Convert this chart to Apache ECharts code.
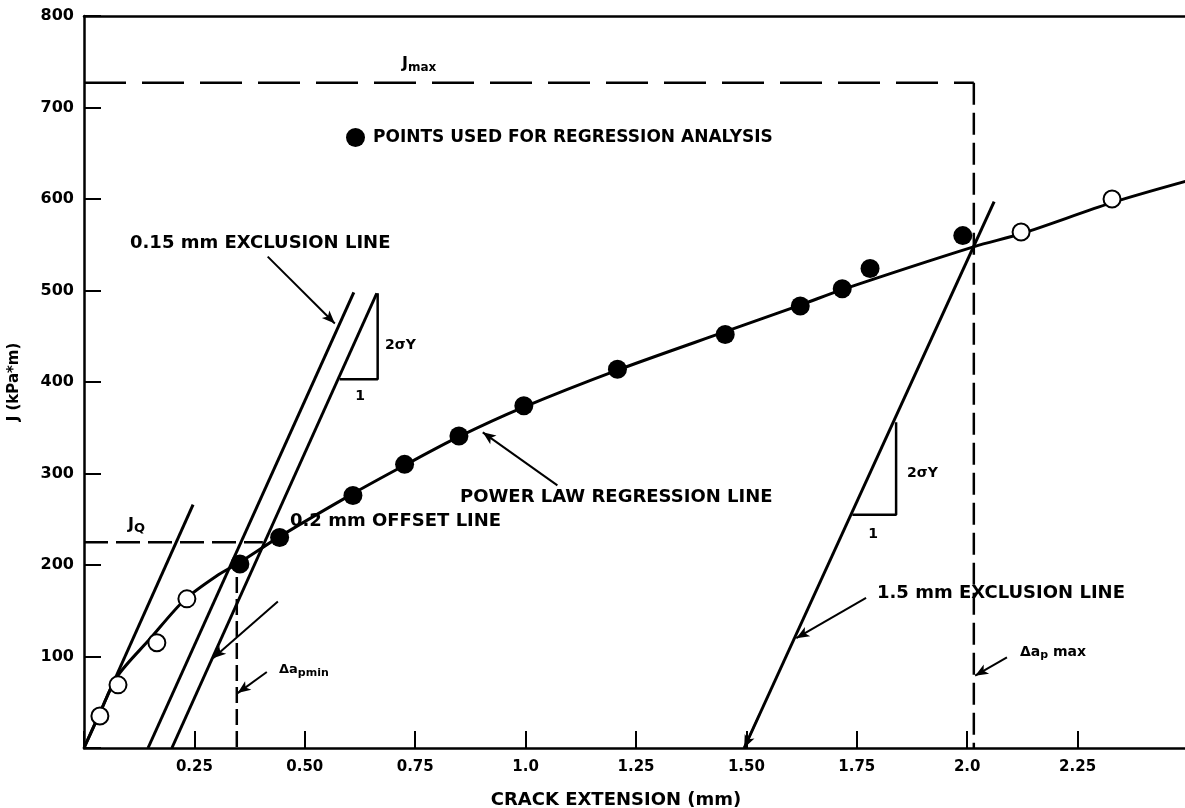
<!DOCTYPE html>
<html lang="en">
<head>
    <meta charset="UTF-8">
    <title>J-R curve</title>
    <script src="https://cdn.jsdelivr.net/npm/echarts@6/dist/echarts.min.js"></script>
    <style>
        html, body { margin: 0; padding: 0; background: #fff; }
    </style>
</head>
<body>
<div id="box" style="width: 1185px;height: 808px;"></div>

<script>
    // tick labels
    var xLabels = ['', '0.25', '0.50', '0.75', '1.0', '1.25', '1.50', '1.75', '2.0', '2.25', ''];
    var yLabels = ['', '100', '200', '300', '400', '500', '600', '700', '800'];

    // points used for regression (filled) and other points (open)
    var usedPoints = [[0.353, 201], [0.443, 230], [0.609, 276], [0.726, 310], [0.849, 341], [0.996, 374],
        [1.208, 414], [1.452, 452], [1.622, 483], [1.717, 502], [1.780, 524], [1.990, 560]];
    var otherPoints = [[0.036, 35], [0.077, 69], [0.165, 115], [0.233, 163], [2.122, 564], [2.328, 600]];

    // power law regression curve
    var curve = [[0, 0], [0.035, 37], [0.075, 78], [0.149, 119], [0.228, 162], [0.300, 188], [0.353, 203],
        [0.443, 231], [0.609, 278], [0.726, 309], [0.848, 340], [0.993, 372], [1.208, 413], [1.452, 455],
        [1.622, 484], [1.717, 501], [2.016, 548], [2.122, 562], [2.328, 596], [2.500, 620]];

    // straight construction lines
    var bluntLine = [[0, 0], [0.247, 266]];
    var excl015 = [[0.145, 0], [0.611, 498]];
    var offset02 = [[0.199, 0], [0.663, 497]];
    var excl15 = [[1.495, 0], [2.061, 597]];
    var slope1 = [[0.579, 403], [0.665, 403], [0.665, 497]];
    var slope2 = [[1.740, 255], [1.839, 255], [1.839, 356]];

    // dashed limits
    var jmaxH = [[0, 727], [2.015, 727]];
    var jmaxV = [[2.015, 727], [2.015, 0]];
    var jqLine = [[0, 225], [0.405, 225]];
    var daMin = [[0.346, 187], [0.346, 0]];

    // annotation arrows [from, to]
    var arrows = [
        [[0.416, 537], [0.568, 464]],
        [[1.072, 287], [0.903, 345]],
        [[0.439, 160], [0.292, 98]],
        [[0.414, 83], [0.348, 60]],
        [[1.771, 164], [1.613, 120]],
        [[2.090, 99], [2.018, 79]],
        [[1.530, 37], [1.495, 0]]
    ];

    var FONT = '"DejaVu Sans", sans-serif';

    function solid(name, data, width) {
        return {
            name: name, type: 'line', data: data, showSymbol: false, smooth: false,
            lineStyle: {color: '#000', width: width || 3}, z: 3, silent: true
        };
    }
    function dashed(name, data, dash) {
        return {
            name: name, type: 'line', data: data, showSymbol: false,
            lineStyle: {color: '#000', width: 2.5, type: dash}, z: 2, silent: true
        };
    }
    function txt(x, y, s, size, align) {
        return {
            type: 'text', x: x, y: y, z: 10,
            style: {text: s, fill: '#000', font: 'bold ' + (size || 16) + 'px ' + FONT,
                align: align || 'left', verticalAlign: 'middle'}
        };
    }
    function subTxt(x, y, main, sub, size, subSize) {
        return {
            type: 'text', x: x, y: y, z: 10,
            style: {
                text: '{a|' + main + '}{b|' + sub + '}', verticalAlign: 'middle',
                rich: {
                    a: {font: 'bold ' + size + 'px ' + FONT, fill: '#000'},
                    b: {font: 'bold ' + subSize + 'px ' + FONT, fill: '#000', padding: [Math.round(size * 0.5), 0, 0, 0]}
                }
            }
        };
    }

    var myChart = echarts.init(document.getElementById('box'));
    var option = {
        animation: false,
        backgroundColor: '#fff',
        grid: {left: 84, top: 16, bottom: 60, width: 1104, show: false, containLabel: false, outerBoundsMode: 'none'},
        legend: {
            data: ['POINTS USED FOR REGRESSION ANALYSIS'],
            left: 341, top: 123, icon: 'circle', itemWidth: 19, itemHeight: 19,
            itemStyle: {color: '#000', opacity: 1},
            textStyle: {fontFamily: FONT, fontWeight: 'bold', fontSize: 17, color: '#000', padding: [0, 0, 0, 3]}
        },
        xAxis: [{
            type: 'value', min: 0, max: 2.5, interval: 0.25,
            name: 'CRACK EXTENSION (mm)', nameLocation: 'middle', nameGap: 43,
            nameTextStyle: {fontFamily: FONT, fontWeight: 'bold', fontSize: 18, color: '#000', padding: [0, 40, 0, 0]},
            axisLine: {lineStyle: {color: '#000', width: 2.5}},
            axisTick: {inside: true, length: 17, lineStyle: {color: '#000', width: 2}},
            axisLabel: {
                margin: 12, fontFamily: FONT, fontWeight: 'bold', fontSize: 15, color: '#000',
                formatter: function (v) { return xLabels[Math.round(v / 0.25)]; }
            },
            splitLine: {show: false}
        }, {
            // top frame line only
            type: 'value', position: 'top', min: 0, max: 2.5,
            axisLine: {show: true, lineStyle: {color: '#000', width: 2.5}},
            axisTick: {show: false}, axisLabel: {show: false}, splitLine: {show: false}
        }],
        yAxis: {
            type: 'value', min: 0, max: 800, interval: 100,
            name: 'J (kPa*m)', nameLocation: 'middle', nameGap: 62,
            nameTextStyle: {fontFamily: FONT, fontWeight: 'bold', fontSize: 15, color: '#000'},
            axisLine: {lineStyle: {color: '#000', width: 2.5}},
            axisTick: {inside: true, length: 17, lineStyle: {color: '#000', width: 2}},
            axisLabel: {
                margin: 10, fontFamily: FONT, fontWeight: 'bold', fontSize: 16, color: '#000',
                formatter: function (v) { return yLabels[Math.round(v / 100)]; }
            },
            splitLine: {show: false}
        },
        series: [
            {
                name: 'regression line', type: 'line', data: curve, showSymbol: false, smooth: 0.3,
                lineStyle: {color: '#000', width: 3}, z: 3, silent: true,
                markLine: {
                    silent: true, symbol: ['none', 'arrow'], symbolSize: [8, 13],
                    label: {show: false},
                    lineStyle: {color: '#000', width: 2, type: 'solid'},
                    data: arrows.map(function (a) {
                        return [{coord: a[0]}, {coord: a[1]}];
                    })
                }
            },
            solid('blunting line', bluntLine),
            solid('0.15 mm exclusion', excl015),
            solid('0.2 mm offset', offset02),
            solid('1.5 mm exclusion', excl15),
            solid('slope 1', slope1, 2.5),
            solid('slope 2', slope2, 2.5),
            dashed('Jmax', jmaxH, [42, 16]),
            dashed('Jmax limit', jmaxV, [22, 8]),
            dashed('JQ', jqLine, [24, 8]),
            dashed('da min', daMin, [16, 6]),
            {
                name: 'other points', type: 'scatter', data: otherPoints, symbolSize: 17, z: 5,
                itemStyle: {color: '#fff', borderColor: '#000', borderWidth: 2, opacity: 1}
            },
            {
                name: 'POINTS USED FOR REGRESSION ANALYSIS', type: 'scatter', data: usedPoints, symbolSize: 19, z: 5,
                itemStyle: {color: '#000', opacity: 1}
            }
        ],
        graphic: [
            txt(130, 243, '0.15 mm EXCLUSION LINE', 18),
            txt(460, 497, 'POWER LAW REGRESSION LINE', 18),
            txt(290, 521, '0.2 mm OFFSET LINE', 18),
            txt(877, 593, '1.5 mm EXCLUSION LINE', 18),
            txt(385, 345, '2σY', 14),
            txt(907, 473, '2σY', 14),
            txt(360, 396, '1', 14, 'center'),
            txt(873, 534, '1', 14, 'center'),
            subTxt(402, 64, 'J', 'max', 16, 12),
            subTxt(128, 525, 'J', 'Q', 16, 13),
            subTxt(279, 670, 'Δa', 'pmin', 13, 11),
            {
                type: 'text', x: 1020, y: 652, z: 10,
                style: {
                    text: '{a|Δa}{b|p}{a| max}', verticalAlign: 'middle',
                    rich: {
                        a: {font: 'bold 14px ' + FONT, fill: '#000'},
                        b: {font: 'bold 11px ' + FONT, fill: '#000', padding: [6, 0, 0, 0]}
                    }
                }
            }
        ]
    };
    myChart.setOption(option);
</script>
</body>
</html>
